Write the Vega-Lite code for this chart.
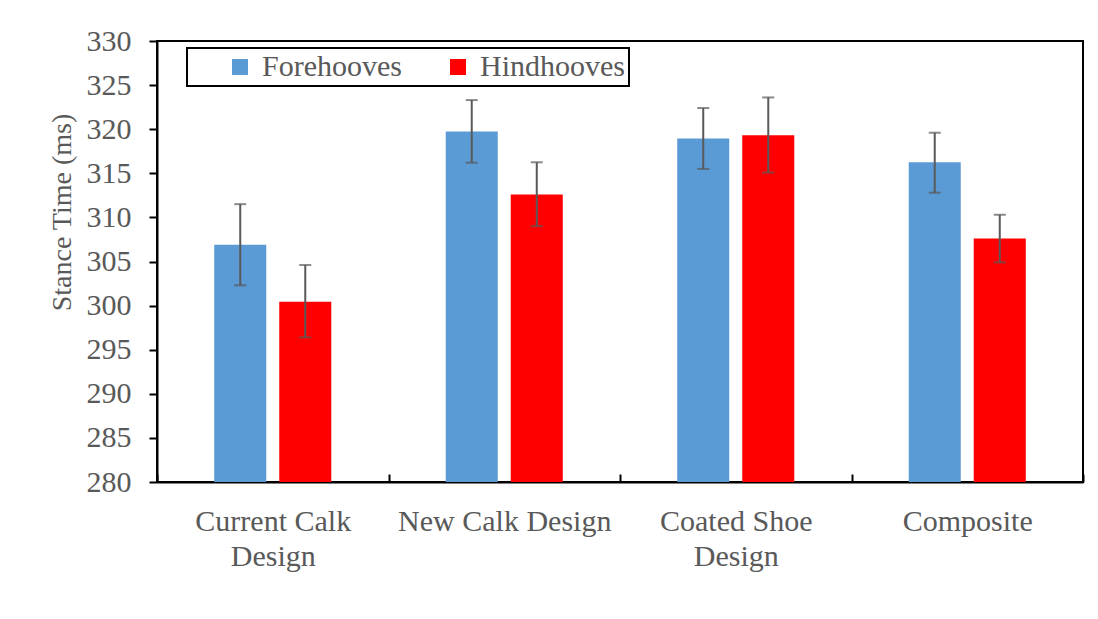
{
  "$schema": "https://vega.github.io/schema/vega-lite/v6.json",
  "autosize": "none",
  "width": 926,
  "height": 441,
  "padding": {"left": 157, "top": 41, "right": 15, "bottom": 137},
  "background": "white",
  "data": {
    "values": [
      {"design": "Current Calk Design", "hoof": "Forehooves", "mean": 306.9, "lo": 302.3, "hi": 311.5},
      {"design": "Current Calk Design", "hoof": "Hindhooves", "mean": 300.45, "lo": 296.4, "hi": 304.6},
      {"design": "New Calk Design", "hoof": "Forehooves", "mean": 319.75, "lo": 316.2, "hi": 323.3},
      {"design": "New Calk Design", "hoof": "Hindhooves", "mean": 312.6, "lo": 309.0, "hi": 316.25},
      {"design": "Coated Shoe Design", "hoof": "Forehooves", "mean": 318.95, "lo": 315.5, "hi": 322.4},
      {"design": "Coated Shoe Design", "hoof": "Hindhooves", "mean": 319.3, "lo": 315.1, "hi": 323.6},
      {"design": "Composite", "hoof": "Forehooves", "mean": 316.25, "lo": 312.8, "hi": 319.6},
      {"design": "Composite", "hoof": "Hindhooves", "mean": 307.6, "lo": 304.9, "hi": 310.3}
    ]
  },
  "encoding": {
    "x": {
      "field": "design",
      "type": "nominal",
      "sort": null,
      "scale": {"paddingInner": 0, "paddingOuter": 0},
      "axis": {
        "title": null,
        "labelAngle": 0,
        "domainColor": "black",
        "domainWidth": 2,
        "tickColor": "black",
        "tickWidth": 2,
        "tickSize": -8,
        "tickBand": "extent",
        "labelPadding": 32,
        "labelFont": "Liberation Serif",
        "labelFontSize": 30,
        "labelColor": "#595959",
        "labelLineHeight": 35,
        "labelBaseline": "top",
        "labelLimit": 400,
        "labelOverlap": false,
        "labelExpr": "datum.label == 'Current Calk Design' ? ['Current Calk', 'Design'] : datum.label == 'Coated Shoe Design' ? ['Coated Shoe', 'Design'] : datum.label"
      }
    },
    "xOffset": {
      "field": "hoof",
      "type": "nominal",
      "scale": {"paddingInner": 0.2, "paddingOuter": 0.88}
    }
  },
  "layer": [
    {
      "mark": {"type": "bar"},
      "encoding": {
        "y": {
          "field": "mean",
          "type": "quantitative",
          "scale": {"domain": [280, 330], "zero": false, "nice": false},
          "axis": {
            "title": "Stance Time (ms)",
            "values": [280, 285, 290, 295, 300, 305, 310, 315, 320, 325, 330],
            "grid": false,
            "domainColor": "black",
            "domainWidth": 2,
            "tickColor": "black",
            "tickWidth": 2,
            "tickSize": 8,
            "labelPadding": 18,
            "labelFont": "Liberation Serif",
            "labelFontSize": 30,
            "labelColor": "#595959",
            "titleFont": "Liberation Serif",
            "titleFontSize": 28,
            "titleFontWeight": "normal",
            "titleColor": "#595959",
            "titleAngle": -90,
            "titleBaseline": "middle",
            "titleAlign": "center",
            "titleX": -95,
            "titleY": 171
          }
        },
        "y2": {"datum": 280},
        "color": {
          "field": "hoof",
          "type": "nominal",
          "scale": {"domain": ["Forehooves", "Hindhooves"], "range": ["#5B9BD5", "#FF0000"]},
          "legend": {
            "title": null,
            "orient": "none",
            "legendX": 30,
            "legendY": 7,
            "direction": "horizontal",
            "symbolType": "square",
            "symbolSize": 256,
            "symbolStrokeWidth": 0,
            "symbolOffset": 34,
            "labelFont": "Liberation Serif",
            "labelFontSize": 30,
            "labelColor": "#595959",
            "labelOffset": 7,
            "columnPadding": 7,
            "strokeColor": "black",
            "padding": 4,
            "fillColor": "white"
          }
        }
      }
    },
    {
      "mark": {"type": "rule", "color": "#595959", "strokeWidth": 2},
      "encoding": {
        "y": {"field": "lo", "type": "quantitative"},
        "y2": {"field": "hi"}
      }
    },
    {
      "mark": {"type": "tick", "color": "#595959", "thickness": 2, "size": 12},
      "encoding": {
        "y": {"field": "lo", "type": "quantitative"}
      }
    },
    {
      "mark": {"type": "tick", "color": "#595959", "thickness": 2, "size": 12},
      "encoding": {
        "y": {"field": "hi", "type": "quantitative"}
      }
    }
  ],
  "config": {
    "view": {"stroke": "black", "strokeWidth": 2},
    "legend": {"strokeWidth": 2}
  }
}
